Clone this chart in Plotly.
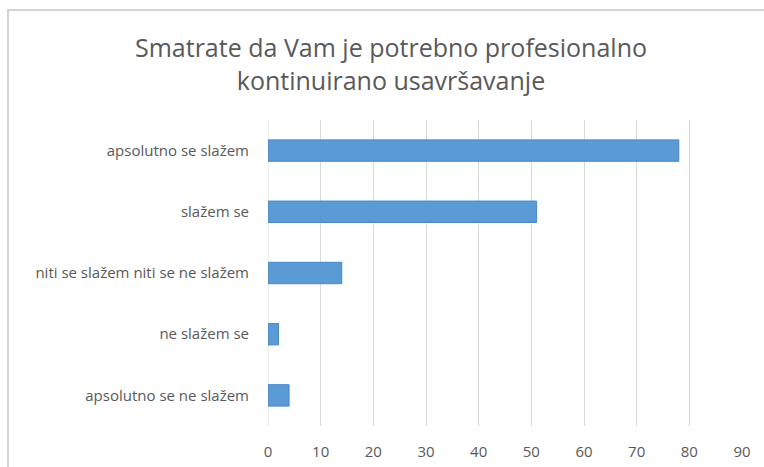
import plotly.graph_objects as go

# Survey answers, top to bottom as shown on the chart
categories = [
    "apsolutno se slažem",
    "slažem se",
    "niti se slažem niti se ne slažem",
    "ne slažem se",
    "apsolutno se ne slažem",
]
counts = [78, 51, 14, 2, 4]
x_ticks = [0, 10, 20, 30, 40, 50, 60, 70, 80, 90]

W, H = 764, 467
# plot area in pixels
L, R, T, B = 268, 742, 120, 426

fig = go.Figure(
    go.Bar(
        x=counts,
        y=categories,
        orientation="h",
        marker=dict(color="#5b9bd5", line=dict(color="#4a87c4", width=1)),
        width=0.35,
        hoverinfo="x+y",
    )
)

font_main = "Open Sans, Calibri, Carlito, sans-serif"


def px_x(p):
    return (p - L) / (R - L)


def px_y(p):
    return (B - p) / (B - T)


fig.update_layout(
    width=W,
    height=H,
    margin=dict(l=L, r=W - R, t=T, b=H - B, pad=0, autoexpand=False),
    paper_bgcolor="white",
    plot_bgcolor="white",
    showlegend=False,
    font=dict(family=font_main, size=14, color="#595959"),
    xaxis=dict(
        range=[0, 90],
        tickvals=x_ticks,
        showgrid=True,
        gridcolor="#d9d9d9",
        gridwidth=1,
        zeroline=False,
        showline=False,
        ticks="",
        ticklabelstandoff=15,
        tickfont=dict(size=15, color="#595959"),
        automargin=False,
        fixedrange=True,
    ),
    yaxis=dict(
        categoryorder="array",
        categoryarray=categories[::-1],
        showgrid=False,
        showline=False,
        zeroline=False,
        ticks="",
        ticklabelstandoff=18,
        tickfont=dict(size=15, color="#595959"),
        automargin=False,
        fixedrange=True,
    ),
)

# chart title, two centred lines
fig.add_annotation(
    text="Smatrate da Vam je potrebno profesionalno<br>kontinuirano usavršavanje",
    xref="paper",
    yref="paper",
    x=px_x(391),
    y=px_y(63),
    xanchor="center",
    yanchor="middle",
    showarrow=False,
    align="center",
    font=dict(family=font_main, size=25, color="#595959"),
)

# zero gridline at the left edge of the plot area
fig.add_shape(type="line", xref="x", yref="paper", x0=0, x1=0, y0=0, y1=1,
              line=dict(color="#d9d9d9", width=1), layer="below")

# chart frame: left and top edges
fig.add_shape(
    type="path",
    xref="paper",
    yref="paper",
    path=f"M {px_x(8)} {px_y(H + 5)} L {px_x(8)} {px_y(10)} L {px_x(W + 5)} {px_y(10)}",
    line=dict(color="#d4d4d4", width=2),
)

fig.write_html("out.html")
